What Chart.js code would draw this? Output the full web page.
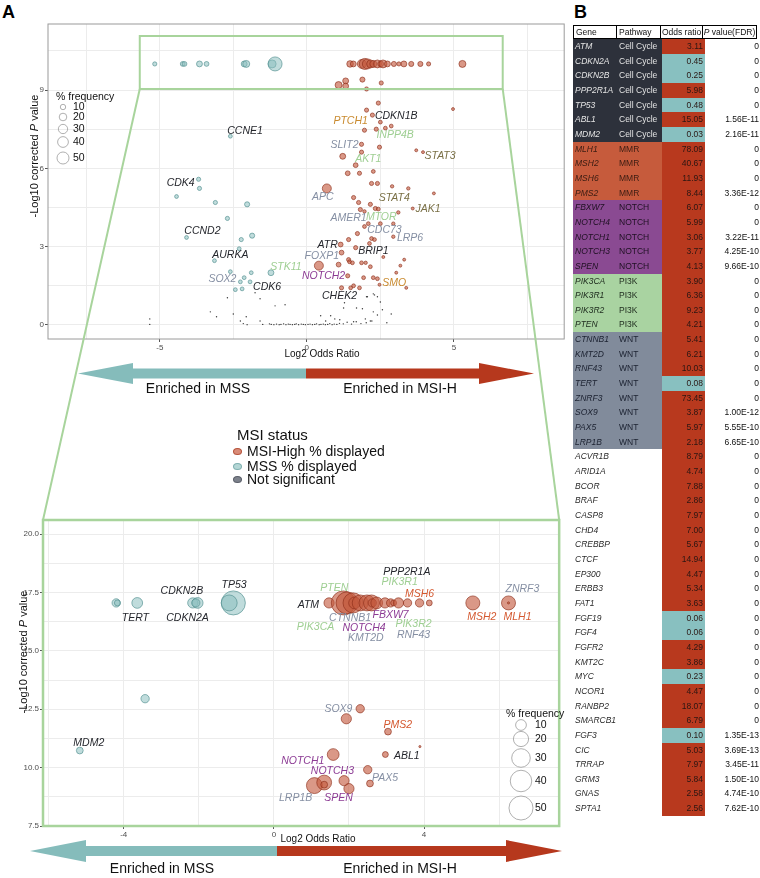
<!DOCTYPE html>
<html><head><meta charset="utf-8">
<script src="https://cdn.jsdelivr.net/npm/chart.js@4.4.1/dist/chart.umd.min.js"></script>
<style>
body{margin:0;background:#fff;font-family:"Liberation Sans",Arial,sans-serif;}
#wrap{position:relative;width:760px;height:878px;overflow:hidden;background:#fff;}
.abs{position:absolute;white-space:nowrap;}
canvas{position:absolute;}
.ytitle{position:absolute;font-size:11px;color:#111;transform:translate(-50%,-50%) rotate(-90deg);white-space:nowrap;}
.xtitle{position:absolute;font-size:10px;color:#111;transform:translate(-50%,-50%);white-space:nowrap;}
.arrtxt{position:absolute;font-size:14px;color:#111;transform:translate(-50%,-50%);white-space:nowrap;}
.leg{position:absolute;font-size:14px;color:#111;white-space:nowrap;line-height:14px;}
.key{display:inline-block;width:7px;height:5px;border-radius:50%;margin-right:5px;vertical-align:middle;position:relative;top:-1px;}
#tbl{position:absolute;left:573px;top:25px;width:187px;font-size:8.5px;}
.row{display:flex;height:14.66px;line-height:14.66px;}
.hrow{display:flex;height:14px;line-height:13px;}
.hrow div{border:1px solid #000;box-sizing:border-box;margin-right:-1px;color:#111;}
.c1{width:44px;padding-left:2px;box-sizing:border-box;font-style:italic;}
.c2{width:45px;padding-left:2px;box-sizing:border-box;}
.c3{width:43px;text-align:right;padding-right:2px;box-sizing:border-box;}
.c4{width:55px;text-align:right;padding-right:1px;box-sizing:border-box;color:#111;}
</style></head><body><div id="wrap">
<div class="abs" style="left:2px;top:2px;font-size:18px;font-weight:bold;">A</div>
<div class="abs" style="left:574px;top:2px;font-size:18px;font-weight:bold;">B</div>
<canvas id="cTop" width="572" height="359" style="left:0;top:0;"></canvas>
<canvas id="cBot" width="572" height="340" style="left:0;top:505px;"></canvas>
<svg id="ov" class="abs" style="left:0;top:0;" width="760" height="878"></svg>
<div class="ytitle" style="left:34px;top:156px;">-Log10 corrected <i>P</i> value</div>
<div class="ytitle" style="left:23px;top:652px;">-Log10 corrected <i>P</i> value</div>
<div class="xtitle" style="left:322px;top:353px;">Log2 Odds Ratio</div>
<div class="xtitle" style="left:318px;top:838px;">Log2 Odds Ratio</div>
<div class="arrtxt" style="left:198px;top:388px;">Enriched in MSS</div>
<div class="arrtxt" style="left:400px;top:388px;">Enriched in MSI-H</div>
<div class="arrtxt" style="left:162px;top:868px;">Enriched in MSS</div>
<div class="arrtxt" style="left:400px;top:868px;">Enriched in MSI-H</div>
<div class="leg" style="left:237px;top:428px;font-size:15px;">MSI status</div>
<div class="leg" style="left:233px;top:444px;"><span class="key" style="background:#d98b78;border:1px solid #b6543c"></span>MSI-High % displayed</div>
<div class="leg" style="left:233px;top:459px;"><span class="key" style="background:#b4d6d5;border:1px solid #7fb0b0"></span>MSS % displayed</div>
<div class="leg" style="left:233px;top:472px;"><span class="key" style="background:#7d828c;border:1px solid #5a5f69"></span>Not significant</div>
<div id="tbl"></div>
</div>
<script>
// ---------------- DATA ----------------
// Top overview chart: MSI-H enriched (red)
const topMsiX = [1.47,1.58,1.87,1.97,2.06,2.17,2.26,2.40,2.51,2.59,2.74,2.96,3.13,3.30,3.55,3.86,4.14,5.29,
  1.08,1.32,1.32,1.89,2.53,2.03,2.43,2.03,2.23,2.50,1.96,2.36,2.67,2.87,4.97,1.86,2.47,1.22,1.86,1.66,3.72,3.95,
  1.39,1.79,2.26,0.68,2.20,2.40,2.90,3.45,4.32,1.59,1.76,2.16,1.82,2.33,2.43,3.11,3.60,1.96,2.09,2.50,2.94,1.96,
  1.72,2.94,2.20,2.30,1.42,1.15,2.13,1.66,1.18,2.60,1.42,1.45,1.55,1.86,2.00,2.16,3.31,3.18,1.08,0.41,3.04,1.39,
  1.93,2.26,2.40,2.47,3.38,1.18,1.49,1.59,1.79];
const topMsiY = [10,10,10,10,10,10,10,10,10,10,10,10,10,10,10,10,10,10,
  9.19,9.35,9.15,9.40,9.27,9.04,8.50,8.23,8.04,7.77,7.46,7.50,7.54,7.62,8.27,6.92,6.81,6.46,6.62,6.12,6.69,6.62,
  5.81,5.81,5.88,5.23,5.42,5.42,5.31,5.23,5.04,4.88,4.69,4.62,4.42,4.46,4.44,4.31,4.46,4.35,3.88,3.88,3.88,3.77,
  3.50,3.38,3.31,3.27,3.27,3.08,3.12,2.96,2.77,2.60,2.50,2.42,2.38,2.38,2.38,2.23,2.50,2.27,2.31,2.27,2.00,1.88,
  1.81,1.81,1.77,1.54,1.42,1.42,1.42,1.50,1.42];
const topMsiFreq = [15,12,28,42,35,22,17,22,12,22,12,9,6,12,9,9,6,17,
  17,12,12,9,6,6,6,6,6,5,6,6,5,5,3,6,6,12,6,8,3,3,
  8,6,5,28,6,6,4,4,3,6,6,6,6,6,5,4,3,4,5,5,4,5,
  6,4,5,5,6,8,5,6,8,3,6,5,5,5,4,5,3,3,8,28,3,6,
  5,5,5,3,3,6,5,5,5];
// Top overview chart: MSS enriched (teal)
const topMssX = [-5.17,-4.22,-4.16,-3.65,-3.41,-2.13,-2.06,-1.18,-1.08,
  -2.60,-3.68,-3.65,-4.43,-3.11,-2.03,-2.70,-4.09,-2.23,-1.86,-2.30,-3.14,-2.60,-1.89,-2.13,-2.26,-1.93,-2.43,-2.20,-1.22];
const topMssY = [10,10,10,10,10,10,10,10,10,
  7.23,5.58,5.23,4.92,4.69,4.62,4.08,3.35,3.27,3.42,2.92,2.46,2.04,2.00,1.81,1.65,1.65,1.35,1.38,2.00];
const topMssFreq = [6,8,8,12,8,12,17,22,68,
  5,6,6,5,6,9,6,5,6,9,5,5,5,5,5,5,5,5,5,12];
// Top overview chart: not significant (black)
const topNsX = [-5.34,-5.34,-3.28,-3.07,-2.70,-2.50,-2.26,-2.16,-2.06,-2.03,-1.76,-1.59,-1.59,-1.50,-1.27,-1.08,-0.74,
  -1.21,-1.12,-1.03,-0.94,-0.88,-0.79,-0.71,-0.63,-0.57,-0.49,-0.41,-0.36,-0.28,-0.19,-0.12,-0.05,0.04,0.11,0.19,0.27,
  0.33,0.42,0.48,0.56,0.63,0.71,0.78,0.86,0.93,1.02,1.11,1.24,1.37,1.52,1.68,1.84,2.02,2.21,
  0.47,0.81,0.95,1.25,1.28,1.69,1.89,2.06,2.26,2.40,2.50,2.57,2.26,2.40,2.87,2.72,1.99,1.59,2.16,2.03,2.30,1.12,0.64];
const topNsY = [0.23,0.02,0.50,0.31,1.04,0.42,0.15,0.05,0.31,0.01,1.23,1.00,0.15,0.02,0.04,0.73,0.77,
  0.02,0.01,0.03,0.01,0.02,0.04,0.01,0.03,0.02,0.01,0.02,0.04,0.01,0.03,0.02,0.01,0.02,0.03,0.01,0.02,
  0.04,0.01,0.02,0.03,0.01,0.02,0.05,0.01,0.03,0.02,0.06,0.04,0.10,0.03,0.12,0.05,0.08,0.15,
  0.35,0.35,0.23,0.65,0.85,0.65,0.62,1.08,1.19,1.08,0.88,0.58,0.50,0.38,0.42,0.08,0.23,0.12,0.15,1.08,1.15,0.20,0.15];

// Zoomed chart: MSI-H enriched (red)
const botMsiX = [1.47,1.85,1.95,2.11,2.15,2.30,2.48,2.60,2.62,2.74,2.96,3.11,3.19,3.32,3.56,3.88,4.14,5.30,6.25,6.25,
  2.30,1.93,3.04,3.89,2.97,1.58,2.50,1.87,2.56,1.08,1.34,1.34,2.00];
const botMsiY = [17.05,17.05,17.05,17.05,17.05,17.05,17.05,17.05,17.05,17.05,17.05,17.05,17.05,17.05,17.05,17.05,17.05,17.05,17.05,17.05,
  12.52,12.09,11.54,10.90,10.56,10.56,9.91,9.44,9.32,9.23,9.36,9.27,9.10];
const botMsiFreq = [9,50,42,35,12,22,22,22,6,12,9,6,3,9,6,6,3,17,17,0.4,
  6,9,4,0.4,3,12,6,9,4,22,19,4,9];
// Zoomed chart: MSS enriched (teal)
const botMssX = [-4.20,-4.17,-3.64,-2.16,-2.03,-2.08,-1.08,-1.19,-3.43,-5.17];
const botMssY = [17.05,17.05,17.05,17.05,17.05,17.05,17.05,17.05,12.95,10.73];
const botMssFreq = [6,3,10,9,10,6,50,22,6,4];

// Axis ticks
const topXTicks = [-7.5,-5,-2.5,0,2.5,5,7.5];
const topXLabels = [-5,0,5];
const topYTicks = [0,1.5,3,4.5,6,7.5,9,10.5];
const topYLabels = [0,3,6,9];
const botXTicks = [-6,-4,-2,0,2,4,6];
const botXLabels = [-4,0,4];
const botYTicks = [7.5,8.75,10,11.25,12.5,13.75,15,16.25,17.5,18.75,20];
const botYLabels = [7.5,10,12.5,15,17.5,20];
const sizeLegendValues = [10,20,30,40,50];

// Gene label annotations [text, x, y, pathway]
const topGeneLabels = [
  ['CCNE1',-2.10,7.42,'cc'],['PTCH1',1.49,7.80,'hh'],['CDKN1B',3.04,8.00,'cc'],['INPP4B',3.00,7.27,'pi3k'],
  ['SLIT2',1.28,6.88,'wnt'],['STAT3',4.53,6.46,'js'],['AKT1',2.09,6.35,'pi3k'],['CDK4',-4.29,5.42,'cc'],
  ['APC',0.54,4.88,'wnt'],['STAT4',2.97,4.85,'js'],['JAK1',4.12,4.42,'js'],['AMER1',1.42,4.08,'wnt'],
  ['MTOR',2.53,4.15,'pi3k'],['CDC73',2.64,3.62,'wnt'],['LRP6',3.51,3.31,'wnt'],['CCND2',-3.55,3.58,'cc'],
  ['ATR',0.71,3.04,'cc'],['FOXP1',0.51,2.65,'wnt'],['BRIP1',2.26,2.81,'cc'],['AURKA',-2.60,2.69,'cc'],
  ['STK11',-0.71,2.23,'pi3k'],['NOTCH2',0.57,1.88,'notch'],['SOX2',-2.87,1.77,'wnt'],['CDK6',-1.35,1.46,'cc'],
  ['SMO',2.97,1.62,'hh'],['CHEK2',1.11,1.12,'cc']];
const botGeneLabels = [
  ['TERT',-3.69,16.41,'cc'],['CDKN2B',-2.45,17.56,'cc'],['CDKN2A',-2.30,16.41,'cc'],['TP53',-1.06,17.82,'cc'],
  ['ATM',0.92,16.97,'cc'],['PTEN',1.61,17.69,'pi3k'],['PPP2R1A',3.54,18.38,'cc'],['PIK3R1',3.35,17.95,'pi3k'],
  ['MSH6',3.88,17.44,'mmr'],['ZNRF3',6.62,17.65,'wnt'],['CTNNB1',2.03,16.41,'wnt'],['FBXW7',3.11,16.54,'notch'],
  ['PIK3CA',1.11,16.03,'pi3k'],['NOTCH4',2.40,15.98,'notch'],['PIK3R2',3.72,16.15,'pi3k'],['KMT2D',2.45,15.56,'wnt'],
  ['RNF43',3.72,15.68,'wnt'],['MSH2',5.54,16.45,'mmr'],['MLH1',6.49,16.45,'mmr'],['MDM2',-4.93,11.07,'cc'],
  ['SOX9',1.72,12.52,'wnt'],['PMS2',3.30,11.84,'mmr'],['ABL1',3.54,10.51,'cc'],['NOTCH1',0.77,10.26,'notch'],
  ['NOTCH3',1.56,9.83,'notch'],['PAX5',2.96,9.57,'wnt'],['LRP1B',0.58,8.68,'wnt'],['SPEN',1.72,8.68,'notch']];
// Zoom window shown on the overview [xmin, xmax, ymin, ymax]
const zoomWindow = [-5.68, 6.66, 9.04, 11.07];

// Panel B table
const tableGenes = ['ATM','CDKN2A','CDKN2B','PPP2R1A','TP53','ABL1','MDM2','MLH1','MSH2','MSH6','PMS2','FBXW7','NOTCH4','NOTCH1','NOTCH3','SPEN','PIK3CA','PIK3R1','PIK3R2','PTEN','CTNNB1','KMT2D','RNF43','TERT','ZNRF3','SOX9','PAX5','LRP1B','ACVR1B','ARID1A','BCOR','BRAF','CASP8','CHD4','CREBBP','CTCF','EP300','ERBB3','FAT1','FGF19','FGF4','FGFR2','KMT2C','MYC','NCOR1','RANBP2','SMARCB1','FGF3','CIC','TRRAP','GRM3','GNAS','SPTA1'];
const tablePathways = ['Cell Cycle','Cell Cycle','Cell Cycle','Cell Cycle','Cell Cycle','Cell Cycle','Cell Cycle','MMR','MMR','MMR','MMR','NOTCH','NOTCH','NOTCH','NOTCH','NOTCH','PI3K','PI3K','PI3K','PI3K','WNT','WNT','WNT','WNT','WNT','WNT','WNT','WNT','','','','','','','','','','','','','','','','','','','','','','','','',''];
const tableOdds = [3.11,0.45,0.25,5.98,0.48,15.05,0.03,78.09,40.67,11.93,8.44,6.07,5.99,3.06,3.77,4.13,3.90,6.36,9.23,4.21,5.41,6.21,10.03,0.08,73.45,3.87,5.97,2.18,8.79,4.74,7.88,2.86,7.97,7.00,5.67,14.94,4.47,5.34,3.63,0.06,0.06,4.29,3.86,0.23,4.47,18.07,6.79,0.10,5.03,7.97,5.84,2.58,2.56];
const tablePvals = [0,0,0,0,0,1.56e-11,2.16e-11,0,0,0,3.36e-12,0,0,3.22e-11,4.25e-10,9.66e-10,0,0,0,0,0,0,0,0,0,1.00e-12,5.55e-10,6.65e-10,0,0,0,0,0,0,0,0,0,0,0,0,0,0,0,0,0,0,0,1.35e-13,3.69e-13,3.45e-11,1.50e-10,4.74e-10,7.62e-10];

// ---------------- STYLE ----------------
const FONT = '"Liberation Sans", Arial, sans-serif';
const labelColors = {cc:'#24262c', mmr:'#d4582f', notch:'#8c3b94', pi3k:'#9fcf93', wnt:'#858fa3', hh:'#c98a2e', js:'#7a7046'};
const pathFill = {'Cell Cycle':['#2d313b','#e4e4e4'], 'MMR':['#c65b3c','#3a1c12'], 'NOTCH':['#8a4a92','#1e1022'], 'PI3K':['#a9d3a1','#1d2a1d'], 'WNT':['#818b9b','#1b2130']};
const redFill='rgba(196,88,62,0.62)', redLine='rgba(140,45,25,0.8)';
const tealFill='rgba(140,192,191,0.55)', tealLine='rgba(85,145,145,0.85)';
const topR = f => 0.85*Math.sqrt(f);
const botR = f => 1.7*Math.sqrt(f);

function pts(xs, ys, fs, rf){ return xs.map((x,i)=>({x:x, y:ys[i], r: fs? rf(fs[i]) : 0.7})); }
const near = (v, arr) => arr.some(a => Math.abs(a - v) < 1e-6);

const labelPlugin = {
  id:'geneLabels',
  afterDatasetsDraw(chart, args, o){
    if(!o.items) return;
    const {ctx} = chart, sx = chart.scales.x, sy = chart.scales.y;
    ctx.save();
    ctx.font = 'italic ' + o.size + 'px ' + FONT;
    ctx.textAlign = 'center'; ctx.textBaseline = 'middle';
    o.items.forEach(([t,vx,vy,g]) => { ctx.fillStyle = labelColors[g]; ctx.fillText(t, sx.getPixelForValue(vx), sy.getPixelForValue(vy)); });
    ctx.restore();
  }
};
const framePlugin = {
  id:'frame',
  afterDraw(chart, args, o){
    const {ctx, chartArea:a} = chart, sx = chart.scales.x, sy = chart.scales.y;
    ctx.save();
    ctx.strokeStyle = o.color; ctx.lineWidth = o.width;
    ctx.strokeRect(a.left, a.top, a.right - a.left, a.bottom - a.top);
    if(o.zoom){
      const x0 = sx.getPixelForValue(o.zoom[0]), x1 = sx.getPixelForValue(o.zoom[1]);
      const y0 = sy.getPixelForValue(o.zoom[2]), y1 = sy.getPixelForValue(o.zoom[3]);
      ctx.strokeStyle = '#a8d49c'; ctx.lineWidth = 2;
      ctx.strokeRect(x0, y1, x1 - x0, y0 - y1);
    }
    ctx.restore();
  }
};
const sizeLegendPlugin = {
  id:'sizeLegend',
  afterDraw(chart, args, o){
    const {ctx, chartArea:a} = chart;
    ctx.save();
    ctx.font = '10.5px ' + FONT; ctx.fillStyle = '#111'; ctx.textBaseline = 'middle'; ctx.textAlign = 'left';
    ctx.fillText('% frequency', a.left + o.tx, a.top + o.ty);
    sizeLegendValues.forEach((v,i) => {
      ctx.beginPath(); ctx.arc(a.left + o.cx, a.top + o.cy[i], o.rf(v), 0, Math.PI*2);
      ctx.strokeStyle = '#9c9c9c'; ctx.lineWidth = 0.8; ctx.stroke();
      ctx.fillText(String(v), a.left + o.lx, a.top + o.cy[i]);
    });
    ctx.restore();
  }
};

function axis(min, max, ticks, labels, fmt, fit, isX){
  return {
    type:'linear', min:min, max:max,
    afterBuildTicks: s => { s.ticks = ticks.map(v => ({value:v})); },
    ticks:{autoSkip:false, maxRotation:0, color:'#4d4d4d', font:{size:8, family:FONT}, padding:1,
      callback: v => near(v, labels) ? fmt(v) : ''},
    grid:{color:'#ececec', lineWidth:1, tickLength:3, drawTicks:true,
      tickColor: c => (c.tick && near(c.tick.value, labels)) ? '#555' : 'rgba(0,0,0,0)'},
    border:{display:false},
    afterFit: s => { if(isX) s.height = fit; else s.width = fit; }
  };
}

function ds(data, fill, line, bw){ return {data:data, backgroundColor:fill, borderColor:line, borderWidth:bw, hoverRadius:0}; }

const topChart = new Chart(document.getElementById('cTop'), {
  type:'bubble',
  data:{datasets:[
    ds(pts(topMsiX, topMsiY, topMsiFreq, topR), redFill, redLine, 0.8),
    ds(pts(topMssX, topMssY, topMssFreq, topR), tealFill, tealLine, 0.8),
    ds(pts(topNsX, topNsY, null), 'rgba(20,20,20,0.85)', 'rgba(0,0,0,0)', 0)
  ]},
  options:{responsive:false, animation:false, events:[], clip:false,
    layout:{padding:{top:24, right:4, left:0, bottom:0}},
    plugins:{legend:{display:false}, tooltip:{enabled:false},
      geneLabels:{items:topGeneLabels, size:10.5},
      frame:{color:'#9a9a9a', width:1, zoom:zoomWindow},
      sizeLegend:{tx:8, ty:73, cx:15, lx:25, cy:[83,93,105,118,134], rf:topR}},
    scales:{
      x: axis(-8.8, 8.75, topXTicks, topXLabels, v => String(v), 20, true),
      y: axis(-0.54, 11.53, topYTicks, topYLabels, v => String(v), 48, false)
    }},
  plugins:[labelPlugin, framePlugin, sizeLegendPlugin]
});

const botChart = new Chart(document.getElementById('cBot'), {
  type:'bubble',
  data:{datasets:[
    ds(pts(botMsiX, botMsiY, botMsiFreq, botR), redFill, redLine, 0.8),
    ds(pts(botMssX, botMssY, botMssFreq, botR), tealFill, tealLine, 0.8)
  ]},
  options:{responsive:false, animation:false, events:[],
    layout:{padding:{top:15, right:8, left:0, bottom:0}},
    plugins:{legend:{display:false}, tooltip:{enabled:false},
      geneLabels:{items:botGeneLabels, size:10.5},
      frame:{color:'#a8d49c', width:2.5},
      sizeLegend:{tx:463, ty:194, cx:478, lx:492, cy:[205,219,238,261,288], rf:botR}},
    scales:{
      x: axis(-6.15, 7.6, botXTicks, botXLabels, v => String(v), 19, true),
      y: axis(7.5, 20.6, botYTicks, botYLabels, v => v.toFixed(1), 43, false)
    }},
  plugins:[labelPlugin, framePlugin, sizeLegendPlugin]
});

// ---------------- OVERLAY: zoom connectors + arrows ----------------
const svg = document.getElementById('ov');
const NS = 'http://www.w3.org/2000/svg';
function el(tag, attrs){ const e = document.createElementNS(NS, tag); for(const k in attrs) e.setAttribute(k, attrs[k]); svg.appendChild(e); return e; }
const botTop = 505;
const zx0 = topChart.scales.x.getPixelForValue(zoomWindow[0]);
const zx1 = topChart.scales.x.getPixelForValue(zoomWindow[1]);
const zyb = topChart.scales.y.getPixelForValue(zoomWindow[2]);
const ba = botChart.chartArea;
el('line', {x1:zx0, y1:zyb, x2:ba.left, y2:botTop + ba.top, stroke:'#a8d49c', 'stroke-width':2});
el('line', {x1:zx1, y1:zyb, x2:ba.right, y2:botTop + ba.top, stroke:'#a8d49c', 'stroke-width':2});

function arrow(xl, xm, xr, yc, head, half, shaft){
  const t = shaft/2;
  el('polygon', {fill:'#85bcbb', points:[[xl,yc],[xl+head,yc-half],[xl+head,yc-t],[xm,yc-t],[xm,yc+t],[xl+head,yc+t],[xl+head,yc+half]].map(p=>p.join(',')).join(' ')});
  el('polygon', {fill:'#b6381d', points:[[xm,yc-t],[xr-head,yc-t],[xr-head,yc-half],[xr,yc],[xr-head,yc+half],[xr-head,yc+t],[xm,yc+t]].map(p=>p.join(',')).join(' ')});
}
arrow(78, 306, 534, 373.5, 55, 10.5, 10);
arrow(30, 277, 562, 851, 56, 11, 10);

// ---------------- TABLE ----------------
const tbl = document.getElementById('tbl');
const hdr = document.createElement('div'); hdr.className = 'hrow';
hdr.innerHTML = '<div class="c1" style="font-style:normal">Gene</div><div class="c2">Pathway</div><div class="c3" style="text-align:center;padding:0">Odds ratio</div><div class="c4" style="text-align:center;padding:0"><i>P</i> value(FDR)</div>';
tbl.appendChild(hdr);
tableGenes.forEach((g,i) => {
  const r = document.createElement('div'); r.className = 'row';
  const pw = tablePathways[i];
  const f = pathFill[pw] || ['#ffffff','#2b2b2b'];
  const odd = tableOdds[i];
  const p = tablePvals[i];
  const ptxt = p === 0 ? '0' : p.toExponential(2).toUpperCase();
  r.innerHTML = '<div class="c1" style="background:'+f[0]+';color:'+f[1]+'">'+g+'</div>'+
    '<div class="c2" style="background:'+f[0]+';color:'+f[1]+'">'+pw+'</div>'+
    '<div class="c3" style="background:'+(odd<1?'#88c0c0':'#b8391e')+';color:#2a1612">'+odd.toFixed(2)+'</div>'+
    '<div class="c4">'+ptxt+'</div>';
  tbl.appendChild(r);
});
</script></body></html>
